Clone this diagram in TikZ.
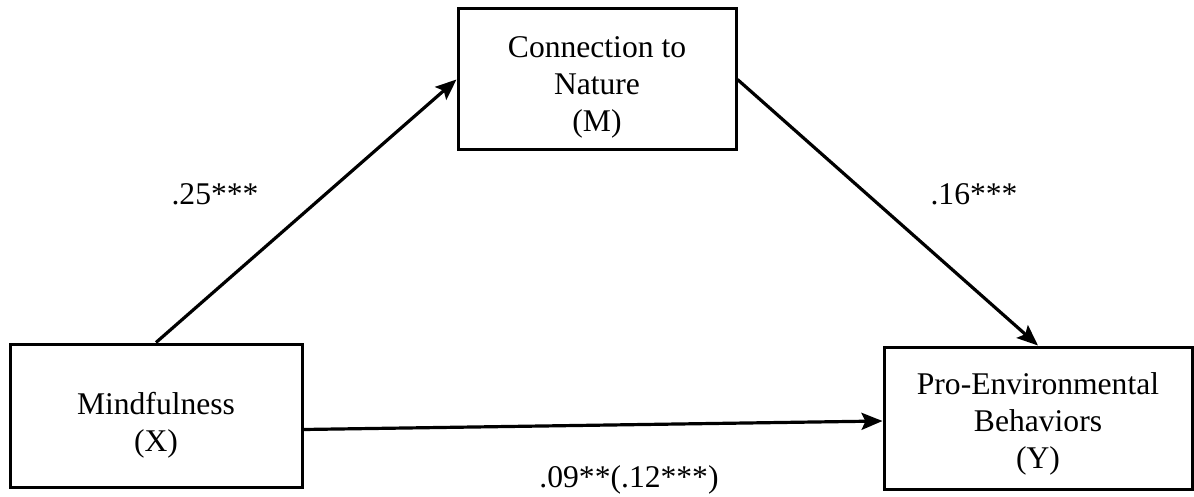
\documentclass[tikz,border=0pt]{standalone}
\usepackage{fontspec}
\setmainfont{Liberation Serif}
\usetikzlibrary{arrows.meta}
\newcommand{\boxtext}[2]{\raisebox{0pt}[\dimexpr\height+#1\relax]{\begin{tabular}{@{}c@{}}#2\end{tabular}}}
\tikzset{
  varbox/.style={draw=black, line width=3pt, align=center, inner sep=0pt,
    font=\fontsize{31.6}{37}\selectfont},
  path arrow/.style={line width=3.2pt, -{Stealth[length=21pt,width=17pt,inset=4pt]}},
  coef/.style={anchor=base, inner sep=0pt, font=\fontsize{31.6}{37}\selectfont}
}
\begin{document}
\begin{tikzpicture}[x=1pt,y=-1pt]
\useasboundingbox (0,0) rectangle (1194,497);
\node[varbox, minimum width=292pt, minimum height=143pt] (X) at (156,415.5) {\boxtext{20pt}{Mindfulness\\(X)}};
\node[varbox, minimum width=278pt, minimum height=141pt] (M) at (597,79.5) {\boxtext{16pt}{Connection to\\Nature\\(M)}};
\node[varbox, minimum width=308pt, minimum height=142pt] (Y) at (1038,418) {\boxtext{12pt}{Pro-Environmental\\Behaviors\\(Y)}};
\draw[path arrow] (X.north) -- (M.west);
\draw[path arrow] (M.east) -- (Y.north);
\draw[path arrow] ([yshift=-14pt]X.east) -- ([yshift=-3pt]Y.west);
\node[coef] (a) at (215,205) {.25***};
\node[coef] (b) at (974,205) {.16***};
\node[coef] (c) at (629,487) {.09**(.12***)};
\end{tikzpicture}
\end{document}
